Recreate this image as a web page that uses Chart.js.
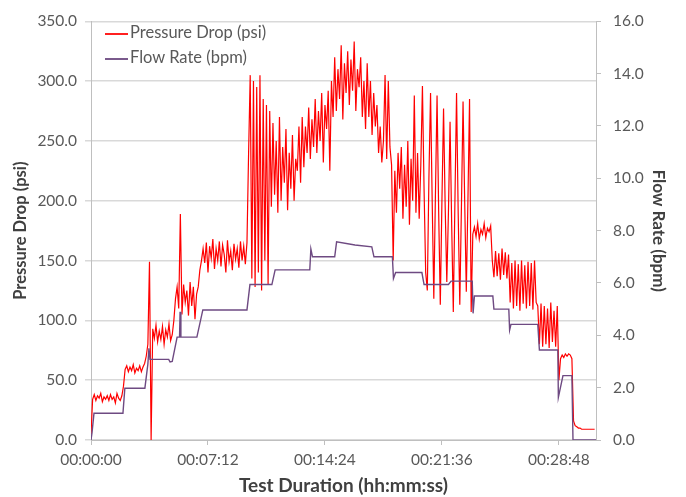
<!DOCTYPE html>
<html>
<head>
<meta charset="utf-8">
<script src="https://cdn.jsdelivr.net/npm/chart.js@4.4.1/dist/chart.umd.min.js"></script>
<style>
	body { margin: 0; background: #fff; }
	#wrap { position: relative; width: 686px; height: 497px; }
	#legend { position: absolute; left: 105px; top: 21px; font: 16.5px Lato, sans-serif; color: #595959; }
	#legend div { height: 25px; line-height: 23px; white-space: nowrap; }
	#legend span.swatch { display: inline-block; width: 23px; height: 1.5px; vertical-align: middle; margin-right: 2px; }
</style>
</head>
<body>
<div id="wrap">
	<canvas id="chart" width="686" height="497"></canvas>
	<div id="legend">
		<div><span class="swatch" style="background:#ff2020"></span>Pressure Drop (psi)</div>
		<div><span class="swatch" style="background:#7a5a8c"></span>Flow Rate (bpm)</div>
	</div>
</div>
<script>
// pressure drop, one reading every 6 s (one row = 1 minute)
var sampleStep = 6;
var pressure = [
	5, 34, 38, 33, 37, 35, 39, 32, 36, 34,
	37, 33, 38, 34, 36, 31, 39, 35, 33, 37,
	45, 59, 62, 57, 61, 58, 63, 56, 60, 58,
	62, 57, 61, 64, 70, 80, 149, 0, 93, 85,
	96, 82, 91, 84, 95, 80, 92, 86, 97, 83,
	88, 100, 118, 128, 110, 189, 105, 130, 115, 125,
	104, 132, 112, 128, 101, 122, 128, 142, 150, 160,
	148, 165, 140, 162, 152, 168, 143, 160, 150, 166,
	145, 163, 155, 140, 167, 149, 158, 142, 164, 151,
	160, 144, 166, 150, 162, 147, 165, 240, 305, 135,
	300, 128, 295, 140, 305, 125, 285, 150, 280, 130,
	275, 195, 265, 205, 250, 190, 270, 200, 245, 215,
	260, 192, 240, 210, 255, 200, 235, 225, 262, 215,
	270, 228, 262, 240, 278, 235, 268, 245, 285, 240,
	275, 250, 290, 232, 280, 260, 292, 225, 300, 270,
	320, 275, 310, 285, 330, 268, 315, 290, 325, 280,
	318, 292, 333, 275, 310, 295, 320, 270, 300, 260,
	315, 270, 300, 255, 290, 262, 280, 240, 262, 232,
	250, 305, 235, 300, 245, 230, 150, 225, 190, 240,
	210, 245, 185, 230, 195, 250, 180, 235, 200, 288,
	190, 240, 185, 230, 296, 210, 140, 125, 220, 290,
	200, 118, 205, 288, 190, 113, 200, 277, 195, 132,
	190, 266, 180, 107, 200, 290, 190, 113, 195, 283,
	200, 124, 200, 285, 107, 172, 178, 170, 181, 168,
	176, 172, 181, 169, 177, 174, 179, 150, 136, 158,
	137, 156, 134, 160, 138, 157, 135, 155, 115, 148,
	110, 150, 112, 147, 108, 150, 114, 146, 110, 149,
	112, 148, 109, 150, 115, 112, 80, 114, 78, 112,
	80, 110, 77, 115, 82, 108, 78, 112, 50, 68,
	71, 69, 72, 70, 72, 71, 68, 16, 12, 11,
	10, 10, 9, 9, 9, 9, 9, 9, 9, 9,
	9
];

// flow rate steps (seconds, bpm)
var flowTimes = [0, 4, 11, 118, 125, 199, 210, 214, 218, 287, 292, 300, 318, 327, 329, 332, 391, 413,
	576, 587, 668, 680, 808, 812, 818, 900, 907, 975, 1037, 1045, 1113, 1117, 1125, 1222, 1230,
	1320, 1330, 1408, 1411, 1416, 1484, 1488, 1543, 1546, 1551, 1650, 1656, 1724, 1726, 1743,
	1776, 1780, 1865];
var flowRate = [0, 0.3, 1.02, 1.02, 1.98, 1.98, 2.9, 3.5, 3.08, 3.08, 2.98, 3.0, 3.93, 3.93, 4.9, 3.93, 3.93, 4.97,
	4.97, 5.94, 5.94, 6.5, 6.5, 7.3, 7.0, 7.0, 7.57, 7.45, 7.38, 7.0, 7.0, 6.17, 6.4, 6.4, 5.94,
	5.94, 6.07, 6.07, 4.84, 5.5, 5.5, 5.0, 5.0, 4.2, 4.42, 4.42, 3.44, 3.44, 1.63, 2.46,
	2.46, 0, 0];

var timeTicks = [0, 432, 864, 1296, 1728];
var timeMax = 1865;

// 秒 -> hh:mm:ss
function hms(sec) {
	var h = Math.floor(sec / 3600), m = Math.floor(sec / 60) % 60, s = sec % 60;
	return [h, m, s].map(function(n) { return (n < 10 ? '0' : '') + n; }).join(':');
}

var pressurePoints = pressure.map(function(v, i) { return {x: i * sampleStep, y: v}; });
var flowPoints = flowTimes.map(function(t, i) { return {x: t, y: flowRate[i]}; });

var tickFont = {family: 'Lato', size: 15.5};

new Chart(document.getElementById('chart'), {
	type: 'line',
	data: {
		datasets: [{
			label: 'Pressure Drop (psi)',
			data: pressurePoints,
			borderColor: '#ff0000',
			borderWidth: 1.2,
			pointRadius: 0,
			yAxisID: 'y',
			order: 1
		},
		{
			label: 'Flow Rate (bpm)',
			data: flowPoints,
			borderColor: '#6e4a82',
			borderWidth: 1.4,
			pointRadius: 0,
			yAxisID: 'y1',
			order: 0
		}]
	},
	options: {
		responsive: false,
		animation: false,
		devicePixelRatio: 1,
		layout: { padding: {top: 17, left: 0, right: 0, bottom: 0} },
		plugins: {
			legend: { display: false },
			tooltip: { enabled: false }
		},
		scales: {
			x: {
				type: 'linear',
				min: 0,
				max: timeMax,
				afterBuildTicks: function(scale) {
					scale.ticks = timeTicks.map(function(v) { return {value: v}; });
				},
				afterFit: function(scale) { scale.height = 57; },
				ticks: {
					font: tickFont,
					color: '#595959',
					padding: 6,
					maxRotation: 0,
					callback: function(v) { return hms(v); }
				},
				grid: { drawOnChartArea: false, tickLength: 5, color: '#bfbfbf' },
				border: { color: '#bfbfbf' },
				title: {
					display: true,
					text: 'Test Duration (hh:mm:ss)',
					font: {family: 'Lato', size: 19, weight: 'bold'},
					color: '#404040',
					padding: {top: 0, bottom: 0}
				}
			},
			y: {
				position: 'left',
				min: 0,
				max: 350,
				afterFit: function(scale) { scale.width = 91; },
				ticks: {
					stepSize: 50,
					font: tickFont,
					color: '#595959',
					padding: 8,
					callback: function(v) { return v.toFixed(1); }
				},
				grid: { color: '#d9d9d9', lineWidth: 1.5, tickLength: 6 },
				border: { color: '#bfbfbf' },
				title: {
					display: true,
					text: 'Pressure Drop (psi)',
					font: {family: 'Lato', size: 16.5, weight: 'bold'},
					color: '#404040',
					padding: {top: 11, bottom: 0}
				}
			},
			y1: {
				position: 'right',
				min: 0,
				max: 16,
				afterFit: function(scale) { scale.width = 90; },
				ticks: {
					stepSize: 2,
					font: tickFont,
					color: '#595959',
					padding: 12,
					callback: function(v) { return v.toFixed(1); }
				},
				grid: { drawOnChartArea: false, tickLength: 5, color: '#bfbfbf' },
				border: { color: '#bfbfbf' },
				title: {
					display: true,
					text: 'Flow Rate (bpm)',
					font: {family: 'Lato', size: 17, weight: 'bold'},
					color: '#404040',
					padding: {top: 17, bottom: 0}
				}
			}
		}
	}
});
</script>
</body>
</html>
